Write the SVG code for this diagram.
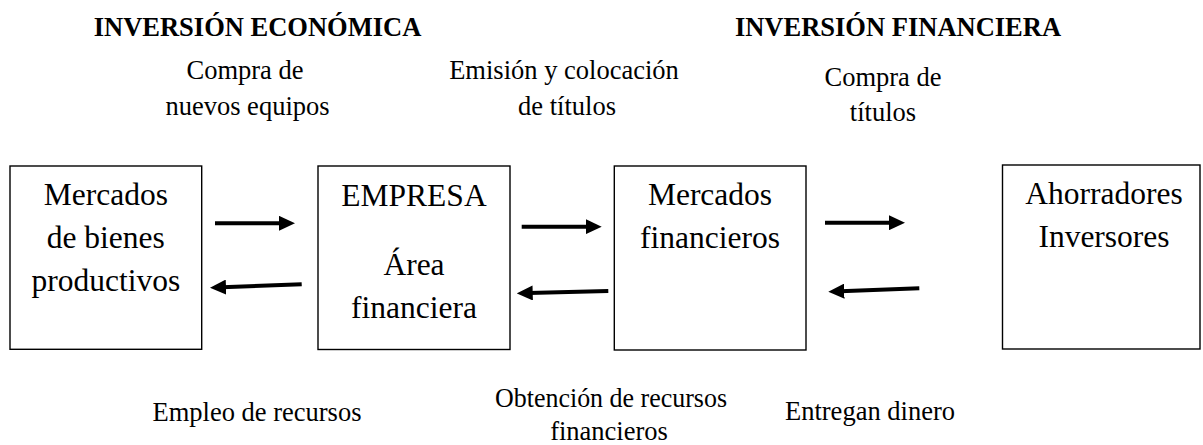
<svg xmlns="http://www.w3.org/2000/svg" width="1203" height="445" viewBox="0 0 1203 445">
<style>
.box{fill:#fff;stroke:#000;stroke-width:1.4}
.bt{font-family:"Liberation Serif","Times New Roman",serif;font-size:31.5px;fill:#000;text-anchor:middle}
.lb{font-family:"Liberation Serif","Times New Roman",serif;font-size:26.5px;fill:#000;text-anchor:middle}
.hd{font-family:"Liberation Serif","Times New Roman",serif;font-size:26.5px;font-weight:bold;fill:#000;text-anchor:middle}
.ar{stroke:#000;stroke-width:4;fill:none;marker-end:url(#ah)}
</style>
<defs>
<marker id="ah" markerUnits="userSpaceOnUse" markerWidth="16" markerHeight="15" refX="4" refY="7.5" orient="auto" viewBox="0 0 16 15">
<path d="M0,0 L16,7.5 L0,15 z" fill="#000"/>
</marker>
</defs>
<g id="headings">
<text class="hd" x="257.5" y="36">INVERSIÓN ECONÓMICA</text>
<text class="hd" x="898" y="36">INVERSIÓN FINANCIERA</text>
</g>
<g id="labels">
<text class="lb" x="245" y="79">Compra de</text>
<text class="lb" x="247.5" y="115">nuevos equipos</text>
<text class="lb" x="564" y="79">Emisión y colocación</text>
<text class="lb" x="567" y="115">de títulos</text>
<text class="lb" x="883" y="86">Compra de</text>
<text class="lb" x="883" y="121">títulos</text>
<text class="lb" x="257" y="421">Empleo de recursos</text>
<text class="lb" x="611" y="407" textLength="232" lengthAdjust="spacingAndGlyphs">Obtención de recursos</text>
<text class="lb" x="609" y="440">financieros</text>
<text class="lb" x="870" y="420">Entregan dinero</text>
</g>
<g id="node-mercados-bienes">
<rect class="box" x="10" y="166" width="191.7" height="183.3"/>
<text class="bt" x="105.8" y="205">Mercados</text>
<text class="bt" x="105.8" y="248">de bienes</text>
<text class="bt" x="105.8" y="291">productivos</text>
</g>
<g id="node-empresa">
<rect class="box" x="318" y="166" width="192" height="183.5"/>
<text class="bt" x="414" y="206">EMPRESA</text>
<text class="bt" x="414" y="275">Área</text>
<text class="bt" x="414" y="318">financiera</text>
</g>
<g id="node-mercados-financieros">
<rect class="box" x="614.3" y="166" width="191.7" height="184"/>
<text class="bt" x="710" y="205">Mercados</text>
<text class="bt" x="710" y="248">financieros</text>
</g>
<g id="node-ahorradores">
<rect class="box" x="1002.5" y="165" width="197.5" height="184"/>
<text class="bt" x="1104" y="204">Ahorradores</text>
<text class="bt" x="1104" y="247">Inversores</text>
</g>
<g id="connectors">
<line class="ar" x1="215" y1="223.3" x2="283" y2="223.3"/>
<line class="ar" x1="301.7" y1="284.3" x2="222" y2="287.2"/>
<line class="ar" x1="521.7" y1="226.7" x2="589.7" y2="226.7"/>
<line class="ar" x1="608.3" y1="291" x2="528.7" y2="293"/>
<line class="ar" x1="825" y1="222.7" x2="893" y2="222.7"/>
<line class="ar" x1="919.3" y1="288.3" x2="840.3" y2="291.3"/>
</g>
</svg>
